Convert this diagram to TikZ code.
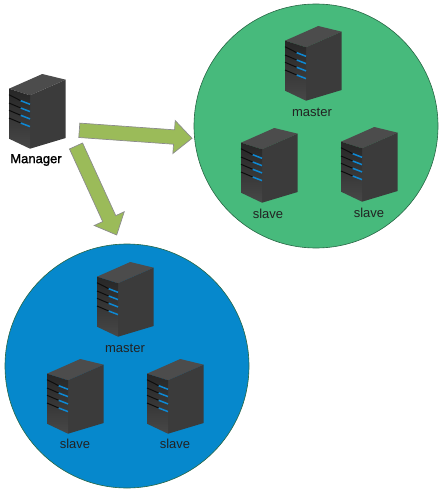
\documentclass[tikz,border=0pt]{standalone}
\usepackage{fontspec}
\setmainfont{Liberation Sans}
\newfontfamily\boldish[FakeBold=1.6]{Liberation Sans}
\usetikzlibrary{calc}
\definecolor{grn}{HTML}{47BA7C}
\definecolor{blu}{HTML}{0688CC}
\definecolor{arr}{HTML}{9BBB59}
\definecolor{txt}{HTML}{222222}
\tikzset{
  x=1pt,y=-1pt,
  zone/.style={draw=black!45!grn,line width=0.6pt},
  label text/.style={font=\fontsize{13pt}{14pt}\selectfont,text=txt,inner sep=0pt},
  fat/.style={fill=arr,draw=black!45,line width=0.7pt,line join=miter},
  server/.pic={
    \fill[fill=black!70] (0,14.7)--(33.3,0)--(56.7,5.7)--(21,21.3)--cycle;
    \fill[fill=black!77] (21,21.3)--(56.7,5.7)--(56.7,64)--(21,74.7)--cycle;
    \shade[top color=black!85,bottom color=black!72] (0,14.7)--(21,21.3)--(21,74.7)--(0,64.7)--cycle;
    \foreach \a/\b in {20.7/26.7,29/34,36.3/41.3,44/49}{
      \draw[black!95,line width=1pt] (0,\a)--(11.7,{\b});
      \draw[cyan!70!blue,line width=1.5pt] (11.7,{\b})--(21,{\b+3.6});
    }
  }
}
\newcommand{\fatarrow}[2]{%
  \draw[fat] ($(#1)!7.2pt!90:(#2)$) -- ($($(#2)!18pt!(#1)$)!7.2pt!90:(#2)$)
    -- ($($(#2)!18pt!(#1)$)!16.5pt!90:(#2)$) -- (#2)
    -- ($($(#2)!18pt!(#1)$)!16.5pt!-90:(#2)$) -- ($($(#2)!18pt!(#1)$)!7.2pt!-90:(#2)$)
    -- ($(#1)!7.2pt!-90:(#2)$) -- cycle;}
\begin{document}
\begin{tikzpicture}
\useasboundingbox (0,0) rectangle (446,495);
\node[circle,zone,fill=grn,minimum size=244pt,inner sep=0pt] (greenzone) at (316,126) {};
\node[circle,zone,fill=blu,minimum size=244pt,inner sep=0pt] (bluezone) at (127,366) {};
\pic at (9,74) {server};
\pic at (285,26) {server};
\pic at (241,128) {server};
\pic at (341,127) {server};
\pic at (97,262) {server};
\pic at (47,359) {server};
\pic at (147,359) {server};
\node[font=\boldish\fontsize{13pt}{14pt}\selectfont,text=black,inner sep=0pt] (manager) at (36,160) {Manager};
\node[label text] (m1) at (312,112) {master};
\node[label text] (s1) at (268,214) {slave};
\node[label text] (s2) at (369,213) {slave};
\node[label text] (m2) at (125,348) {master};
\node[label text] (s3) at (75,444) {slave};
\node[label text] (s4) at (175,444) {slave};
\coordinate (a1) at (79.3,130.3);
\coordinate (a1t) at (192,138.3);
\coordinate (a2) at (76,146);
\coordinate (a2t) at (116.7,235);
\fatarrow{a1}{a1t}
\fatarrow{a2}{a2t}
\end{tikzpicture}
\end{document}
